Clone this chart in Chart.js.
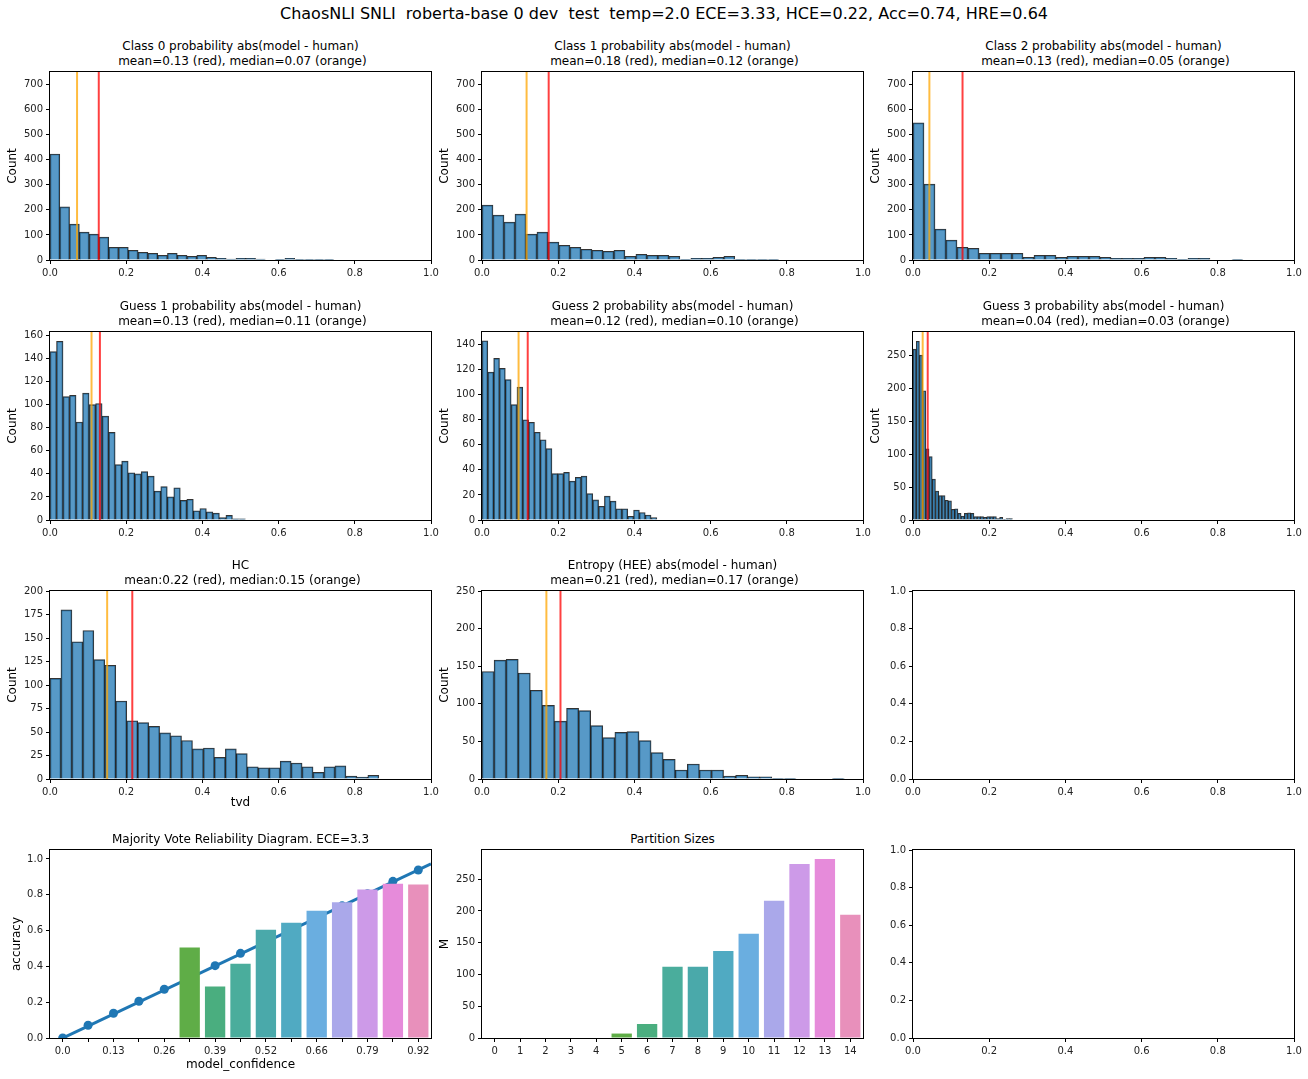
<!DOCTYPE html>
<html>
<head>
<meta charset="utf-8">
<title>ChaosNLI SNLI histograms</title>
<script src="https://cdn.jsdelivr.net/npm/chart.js@4.4.0/dist/chart.umd.min.js"></script>
<style>
    body { margin: 0; background: #fff; font-family: "DejaVu Sans", sans-serif; overflow: hidden; }
    #fig { position: relative; width: 1308px; height: 1079px; }
    #fig canvas { position: absolute; }
    .ax-title { position: absolute; transform: translateX(-50%); text-align: center; font-size: 12px; line-height: 14.4px; color: #000; white-space: pre; }
    #suptitle { position: absolute; top: 4px; left: 664px; transform: translateX(-50%); font-size: 16px; line-height: 19px; white-space: pre; color: #000; }
</style>
</head>
<body>
<div id="fig">
    <div id="suptitle">ChaosNLI SNLI  roberta-base 0 dev  test  temp=2.0 ECE=3.33, HCE=0.22, Acc=0.74, HRE=0.64</div>
</div>
<script>
// ---- data ----
const class0Counts = [423, 212, 143, 111, 103, 91, 51, 51, 39, 31, 27, 19, 27, 19, 15, 19, 11, 7, 4, 7, 7, 4, 0, 3, 7, 3, 3, 3, 3];
const class0BinMax = 0.745;
const class1Counts = [219, 179, 151, 183, 103, 111, 71, 59, 51, 43, 39, 35, 39, 15, 23, 19, 19, 15, 3, 7, 7, 11, 15, 3, 3, 3, 3];
const class1BinMax = 0.779;
const class2Counts = [547, 303, 123, 79, 51, 47, 27, 27, 27, 27, 11, 19, 19, 11, 15, 15, 15, 11, 7, 7, 7, 11, 11, 7, 3, 7, 7, 0, 0, 3];
const class2BinMax = 0.866;

const guess1Counts = [146, 155, 107, 108, 85, 110, 100, 101, 90, 76, 48, 51, 41, 40, 42, 38, 25, 29, 20, 28, 17, 18, 8, 10, 7, 6, 2, 4, 1, 1];
const guess1BinMax = 0.513;
const guess2Counts = [143, 118, 129, 121, 112, 92, 106, 80, 78, 70, 64, 57, 37, 37, 38, 31, 34, 35, 21, 16, 11, 19, 15, 9, 9, 3, 8, 6, 4, 2];
const guess2BinMax = 0.459;
const guess3Counts = [259, 271, 250, 196, 108, 96, 62, 44, 37, 37, 30, 29, 16, 17, 10, 6, 10, 11, 10, 5, 5, 5, 4, 5, 5, 5, 2, 4, 1, 2, 2];
const guess3BinMax = 0.261;

const hcCounts = [107, 180, 146, 158, 127, 121, 83, 62, 60, 56, 49, 46, 41, 32, 33, 23, 32, 27, 13, 12, 12, 19, 17, 13, 7, 13, 14, 3, 2, 4];
const hcBinMax = 0.863;
const entropyCounts = [143, 158, 159, 141, 118, 98, 77, 94, 91, 71, 55, 62, 63, 51, 35, 26, 12, 20, 12, 12, 4, 5, 3, 3, 1, 1, 0, 0, 0, 1];
const entropyBinMax = 0.951;

// mean (red) and median (orange) per histogram
const class0Stats = [0.128, 0.071];
const class1Stats = [0.175, 0.117];
const class2Stats = [0.130, 0.043];
const guess1Stats = [0.131, 0.109];
const guess2Stats = [0.120, 0.096];
const guess3Stats = [0.0386, 0.0254];
const hcStats = [0.216, 0.150];
const entropyStats = [0.206, 0.169];

// reliability diagram
const confLabels = ['0.0', '0.07', '0.13', '0.2', '0.26', '0.33', '0.39', '0.46', '0.52', '0.59', '0.66', '0.72', '0.79', '0.86', '0.92'];
const binAccuracy = [null, null, null, null, null, 0.505, 0.287, 0.415, 0.605, 0.644, 0.711, 0.758, 0.829, 0.862, 0.857];
const confPoints = [0, 0.071, 0.138, 0.205, 0.272, 0.338, 0.404, 0.473, 0.54, 0.605, 0.672, 0.738, 0.805, 0.875, 0.938];
const fitX = [-0.5, 14.5];
const fitY = [-0.034, 0.972];

// partition sizes
const partitionLabels = ['0', '1', '2', '3', '4', '5', '6', '7', '8', '9', '10', '11', '12', '13', '14'];
const partitionSizes = [0, 0, 0, 0, 0, 7, 22, 112, 112, 137, 164, 216, 274, 282, 194];

// tick values
const unitTicks = [0, 0.2, 0.4, 0.6, 0.8, 1.0];
const classTicks = [0, 100, 200, 300, 400, 500, 600, 700];
const guess1Ticks = [0, 20, 40, 60, 80, 100, 120, 140, 160];
const guess2Ticks = [0, 20, 40, 60, 80, 100, 120, 140];
const guess3Ticks = [0, 50, 100, 150, 200, 250];
const hcTicks = [0, 25, 50, 75, 100, 125, 150, 175, 200];
const entropyTicks = [0, 50, 100, 150, 200, 250];
const partitionTicks = [0, 50, 100, 150, 200, 250];
const binTicks = [0, 1, 2, 3, 4, 5, 6, 7, 8, 9, 10, 11, 12, 13, 14];

// ---- look ----
const palette = ['#e6827e', '#d9924a', '#b99f3e', '#9da63c', '#7dac3f', '#5fad47', '#4aae7f', '#4aad9c', '#4aa9aa', '#50aac2',
    '#6aaee0', '#aaa8ea', '#cd9ae8', '#e68bda', '#e890bb'];
const HIST_FILL = 'rgba(31,119,180,0.75)';
const HIST_EDGE = 'rgba(0,0,0,0.8)';
const MEAN_COLOR = 'rgba(255,0,0,0.75)';
const MEDIAN_COLOR = 'rgba(255,165,0,0.75)';
const SNS_BLUE = '#1f77b4';

const colLeft = [50, 482, 913];
const rowTop = [72, 332, 591, 850];
const AX_W = 381, AX_H = 188;
const Y_BOX = 50, X_BOX = 40, PAD_TOP = 10, PAD_RIGHT = 12;

Chart.defaults.font.family = "'DejaVu Sans', sans-serif";
Chart.defaults.font.size = 10;
Chart.defaults.color = '#222';

const fig = document.getElementById('fig');

const framePlugin = {
    id: 'frame',
    afterDraw(chart) {
        const a = chart.chartArea;
        const ctx = chart.ctx;
        ctx.save();
        ctx.strokeStyle = '#000';
        ctx.lineWidth = 1;
        ctx.strokeRect(a.left - 0.5, a.top - 0.5, a.right - a.left + 1, a.bottom - a.top + 1);
        ctx.restore();
    }
};

function addTitle(col, row, lines) {
    const d = document.createElement('div');
    d.className = 'ax-title';
    d.textContent = lines.join('\n');
    d.style.left = (colLeft[col] + AX_W / 2) + 'px';
    d.style.top = (rowTop[row] - 4 - lines.length * 14.4) + 'px';
    fig.appendChild(d);
}

function addCanvas(col, row) {
    const c = document.createElement('canvas');
    c.width = Y_BOX + AX_W + PAD_RIGHT;
    c.height = PAD_TOP + AX_H + X_BOX;
    c.style.left = (colLeft[col] - Y_BOX) + 'px';
    c.style.top = (rowTop[row] - PAD_TOP) + 'px';
    fig.appendChild(c);
    return c;
}

function axis(o) {
    return {
        type: 'linear',
        min: o.min,
        max: o.max,
        offset: false,
        border: { display: false },
        grid: { display: true, drawOnChartArea: false, drawTicks: true, tickLength: 4, color: '#000', lineWidth: 1, offset: false },
        ticks: { padding: 3, color: '#222', font: { size: 10 }, autoSkip: false, maxRotation: 0, callback: o.fmt },
        title: o.title
            ? { display: true, text: o.title, color: '#000', font: { size: 12 }, padding: o.titlePad }
            : { display: false },
        afterBuildTicks: function (s) { s.ticks = o.ticks.map(v => ({ value: v })); },
        afterFit: function (s) {
            if (o.horizontal) s.height = X_BOX;
            else s.width = Y_BOX;
        }
    };
}

const fmt1 = v => Number(v).toFixed(1);
const fmtInt = v => String(v);

function baseOptions(xAxis, yAxis) {
    return {
        responsive: false,
        animation: false,
        events: [],
        layout: { padding: { top: PAD_TOP, right: PAD_RIGHT, bottom: 0, left: 0 } },
        plugins: { legend: { display: false }, tooltip: { enabled: false }, title: { display: false } },
        scales: { x: xAxis, y: yAxis }
    };
}

function vline(x, yMax, color) {
    return {
        type: 'line',
        data: [{ x: x, y: 0 }, { x: x, y: yMax }],
        borderColor: color,
        borderWidth: 2,
        pointRadius: 0,
        order: 1
    };
}

function histogram(p) {
    const w = p.binMax / p.counts.length;
    const bars = p.counts.map((c, k) => ({ x: (k + 0.5) * w, y: c }));
    addTitle(p.col, p.row, p.title);
    new Chart(addCanvas(p.col, p.row), {
        type: 'bar',
        data: {
            datasets: [
                {
                    type: 'bar',
                    data: bars,
                    backgroundColor: HIST_FILL,
                    borderColor: HIST_EDGE,
                    borderWidth: 1,
                    barPercentage: 1,
                    categoryPercentage: 1,
                    order: 2
                },
                vline(p.stats[1], p.yMax, MEDIAN_COLOR),
                vline(p.stats[0], p.yMax, MEAN_COLOR)
            ]
        },
        options: baseOptions(
            axis({ horizontal: true, min: 0, max: 1, ticks: unitTicks, fmt: fmt1, title: p.xTitle, titlePad: { top: 0, bottom: 9 } }),
            axis({ min: 0, max: p.yMax, ticks: p.yTicks, fmt: fmtInt, title: 'Count', titlePad: { top: 6, bottom: 0 } })
        ),
        plugins: [framePlugin]
    });
}

const histPanels = [
    { col: 0, row: 0, counts: class0Counts, binMax: class0BinMax, stats: class0Stats, yMax: 750, yTicks: classTicks,
        title: ['Class 0 probability abs(model - human)', ' mean=0.13 (red), median=0.07 (orange)'] },
    { col: 1, row: 0, counts: class1Counts, binMax: class1BinMax, stats: class1Stats, yMax: 750, yTicks: classTicks,
        title: ['Class 1 probability abs(model - human)', ' mean=0.18 (red), median=0.12 (orange)'] },
    { col: 2, row: 0, counts: class2Counts, binMax: class2BinMax, stats: class2Stats, yMax: 750, yTicks: classTicks,
        title: ['Class 2 probability abs(model - human)', ' mean=0.13 (red), median=0.05 (orange)'] },
    { col: 0, row: 1, counts: guess1Counts, binMax: guess1BinMax, stats: guess1Stats, yMax: 163, yTicks: guess1Ticks,
        title: ['Guess 1 probability abs(model - human)', ' mean=0.13 (red), median=0.11 (orange)'] },
    { col: 1, row: 1, counts: guess2Counts, binMax: guess2BinMax, stats: guess2Stats, yMax: 150, yTicks: guess2Ticks,
        title: ['Guess 2 probability abs(model - human)', ' mean=0.12 (red), median=0.10 (orange)'] },
    { col: 2, row: 1, counts: guess3Counts, binMax: guess3BinMax, stats: guess3Stats, yMax: 285, yTicks: guess3Ticks,
        title: ['Guess 3 probability abs(model - human)', ' mean=0.04 (red), median=0.03 (orange)'] },
    { col: 0, row: 2, counts: hcCounts, binMax: hcBinMax, stats: hcStats, yMax: 200, yTicks: hcTicks, xTitle: 'tvd',
        title: ['HC', ' mean:0.22 (red), median:0.15 (orange)'] },
    { col: 1, row: 2, counts: entropyCounts, binMax: entropyBinMax, stats: entropyStats, yMax: 250, yTicks: entropyTicks,
        title: ['Entropy (HEE) abs(model - human)', ' mean=0.21 (red), median=0.17 (orange)'] }
];

histPanels.forEach(histogram);

// empty axes
function emptyAxes(col, row) {
    new Chart(addCanvas(col, row), {
        type: 'scatter',
        data: { datasets: [{ data: [] }] },
        options: baseOptions(
            axis({ horizontal: true, min: 0, max: 1, ticks: unitTicks, fmt: fmt1 }),
            axis({ min: 0, max: 1, ticks: unitTicks, fmt: fmt1 })
        ),
        plugins: [framePlugin]
    });
}
emptyAxes(2, 2);
emptyAxes(2, 3);

// reliability diagram
addTitle(0, 3, ['Majority Vote Reliability Diagram. ECE=3.3']);
new Chart(addCanvas(0, 3), {
    type: 'bar',
    data: {
        datasets: [
            {
                type: 'bar',
                data: binAccuracy.map((v, i) => ({ x: i, y: v })),
                backgroundColor: palette,
                borderWidth: 0,
                barPercentage: 1,
                categoryPercentage: 0.8,
                order: 0
            },
            {
                type: 'line',
                data: confPoints.map((v, i) => ({ x: i, y: v })),
                showLine: false,
                pointRadius: 4.5,
                pointBackgroundColor: SNS_BLUE,
                pointBorderWidth: 0,
                order: 1
            },
            {
                type: 'line',
                data: fitX.map((x, i) => ({ x: x, y: fitY[i] })),
                borderColor: SNS_BLUE,
                borderWidth: 3,
                pointRadius: 0,
                order: 2
            }
        ]
    },
    options: baseOptions(
        axis({ horizontal: true, min: -0.5, max: 14.5, ticks: binTicks, fmt: (v) => (v % 2 === 0 ? confLabels[v] : ''),
            title: 'model_confidence', titlePad: { top: 0, bottom: 6 } }),
        axis({ min: 0, max: 1.05, ticks: unitTicks, fmt: fmt1, title: 'accuracy', titlePad: { top: 10, bottom: 0 } })
    ),
    plugins: [framePlugin]
});

// partition sizes
addTitle(1, 3, ['Partition Sizes']);
new Chart(addCanvas(1, 3), {
    type: 'bar',
    data: {
        datasets: [{
            type: 'bar',
            data: partitionSizes.map((v, i) => ({ x: i, y: v })),
            backgroundColor: palette,
            borderWidth: 0,
            barPercentage: 1,
            categoryPercentage: 0.8
        }]
    },
    options: baseOptions(
        axis({ horizontal: true, min: -0.5, max: 14.5, ticks: binTicks, fmt: (v) => partitionLabels[v] }),
        axis({ min: 0, max: 296, ticks: partitionTicks, fmt: fmtInt, title: 'M', titlePad: { top: 6, bottom: 0 } })
    ),
    plugins: [framePlugin]
});
</script>
</body>
</html>
